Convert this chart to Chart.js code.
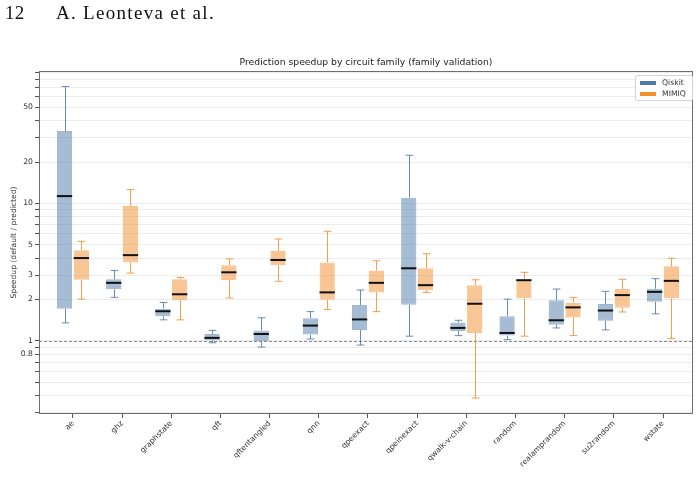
<!DOCTYPE html>
<html lang="en">
<head>
    <meta charset="UTF-8" />
    <title>Prediction speedup by circuit family</title>
    <script src="https://cdn.jsdelivr.net/npm/chart.js"></script>
    <style>
        body {
            margin: 0;
            background: #fff;
        }

        #wrap {
            position: relative;
            width: 700px;
            height: 495px;
        }

        #header {
            position: absolute;
            top: 3px;
            left: 5px;
            font-family: 'Liberation Serif', serif;
            font-size: 19px;
            line-height: 20px;
            color: #111;
            white-space: pre;
            letter-spacing: 0.3px;
        }

            #header .who {
                position: absolute;
                left: 51px;
                letter-spacing: 1.3px;
            }

        #legend {
            position: absolute;
            left: 635px;
            top: 75px;
            width: 56px;
            height: 24px;
            border: 1px solid #d4d4d4;
            border-radius: 2px;
            background: rgba(255, 255, 255, 0.85);
            font-family: 'DejaVu Sans', sans-serif;
            font-size: 7.7px;
            color: #333;
        }

            #legend .item {
                position: absolute;
                left: 4px;
                height: 10px;
                line-height: 10px;
            }

            #legend .patch {
                display: inline-block;
                width: 16px;
                height: 4px;
                vertical-align: middle;
                margin-right: 6px;
            }

        canvas {
            position: absolute;
            left: 0;
            top: 0;
        }
    </style>
</head>
<body>
    <div id="wrap">
        <canvas id="chart" width="700" height="495"></canvas>
        <div id="header">12<span class="who">A. Leonteva et al.</span></div>
        <div id="legend">
            <div class="item" style="top:2px"><span class="patch" style="background:#4e79a7"></span>Qiskit</div>
            <div class="item" style="top:13px"><span class="patch" style="background:#f28e2b"></span>MIMIQ</div>
        </div>
    </div>

    <script>
        // circuit families (x categories)
        const families = ['ae', 'ghz', 'graphstate', 'qft', 'qftentangled', 'qnn', 'qpeexact',
            'qpeinexact', 'qwalk-v-chain', 'random', 'realamprandom', 'su2random', 'wstate'];

        // Qiskit: whisker low, Q1, median, Q3, whisker high
        const qiskitMin = [1.35, 2.07, 1.42, 0.967, 0.90, 1.03, 0.93, 1.08, 1.09, 1.02, 1.24, 1.20, 1.57];
        const qiskitQ1 = [1.71, 2.37, 1.51, 1.01, 0.99, 1.11, 1.20, 1.83, 1.18, 1.09, 1.31, 1.40, 1.92];
        const qiskitMed = [11.3, 2.64, 1.64, 1.05, 1.12, 1.29, 1.43, 3.37, 1.24, 1.14, 1.41, 1.66, 2.27];
        const qiskitQ3 = [33.6, 2.80, 1.71, 1.12, 1.19, 1.46, 1.82, 11.0, 1.36, 1.51, 1.97, 1.85, 2.39];
        const qiskitMax = [71.0, 3.25, 1.90, 1.19, 1.47, 1.63, 2.34, 22.4, 1.41, 2.01, 2.38, 2.29, 2.83];

        // MIMIQ: whisker low, Q1, median, Q3, whisker high
        const mimiqMin = [2.01, 3.11, 1.42, 2.05, 2.71, 1.69, 1.63, 2.25, 0.383, 1.08, 1.09, 1.62, 1.04];
        const mimiqQ1 = [2.78, 3.72, 1.97, 2.77, 3.54, 1.99, 2.25, 2.33, 1.14, 2.04, 1.48, 1.74, 2.04];
        const mimiqMed = [4.00, 4.20, 2.18, 3.15, 3.87, 2.25, 2.64, 2.54, 1.86, 2.76, 1.75, 2.15, 2.73];
        const mimiqQ3 = [4.55, 9.56, 2.80, 3.54, 4.50, 3.72, 3.25, 3.37, 2.54, 2.78, 1.89, 2.38, 3.48];
        const mimiqMax = [5.29, 12.6, 2.89, 3.95, 5.50, 6.26, 3.82, 4.30, 2.78, 3.15, 2.07, 2.80, 3.98];

        // log axis: grid positions and which of them carry a label
        const yGrid = [0.3, 0.4, 0.5, 0.6, 0.7, 0.8, 0.9, 1, 2, 3, 4, 5, 6, 7, 8, 9, 10, 20, 30, 40, 50, 60, 70, 80, 90];
        const yLabelled = [0.8, 1, 2, 3, 5, 10, 20, 50];
        const refLine = 1;
        const chartTitle = 'Prediction speedup by circuit family (family validation)';

        const boxStats = [
            { min: qiskitMin, q1: qiskitQ1, med: qiskitMed, q3: qiskitQ3, max: qiskitMax, whisker: 'rgba(78,121,167,0.85)' },
            { min: mimiqMin, q1: mimiqQ1, med: mimiqMed, q3: mimiqQ3, max: mimiqMax, whisker: 'rgba(242,142,43,0.85)' }
        ];

        const boxPlugin = {
            id: 'boxPlugin',
            beforeDatasetsDraw(chart) {
                const { ctx, chartArea, scales } = chart;
                const y = scales.y.getPixelForValue(refLine);
                ctx.save();
                ctx.strokeStyle = '#8c8c8c';
                ctx.lineWidth = 1;
                ctx.setLineDash([3, 2]);
                ctx.beginPath();
                ctx.moveTo(chartArea.left, Math.round(y) + 0.5);
                ctx.lineTo(chartArea.right, Math.round(y) + 0.5);
                ctx.stroke();
                ctx.restore();
            },
            afterDatasetsDraw(chart) {
                const { ctx, scales } = chart;
                const ys = scales.y;
                ctx.save();
                boxStats.forEach((s, d) => {
                    const meta = chart.getDatasetMeta(d);
                    meta.data.forEach((bar, i) => {
                        const x = Math.round(bar.x) + 0.5;
                        const half = bar.width / 2;
                        const yMin = ys.getPixelForValue(s.min[i]);
                        const yQ1 = ys.getPixelForValue(s.q1[i]);
                        const yQ3 = ys.getPixelForValue(s.q3[i]);
                        const yMax = ys.getPixelForValue(s.max[i]);
                        const yMed = ys.getPixelForValue(s.med[i]);
                        ctx.strokeStyle = s.whisker;
                        ctx.lineWidth = 1;
                        ctx.beginPath();
                        ctx.moveTo(x, yQ3); ctx.lineTo(x, yMax);
                        ctx.moveTo(x, yQ1); ctx.lineTo(x, yMin);
                        ctx.moveTo(x - half / 2, yMax); ctx.lineTo(x + half / 2, yMax);
                        ctx.moveTo(x - half / 2, yMin); ctx.lineTo(x + half / 2, yMin);
                        ctx.stroke();
                        ctx.strokeStyle = '#111';
                        ctx.lineWidth = 2;
                        ctx.beginPath();
                        ctx.moveTo(bar.x - half, yMed); ctx.lineTo(bar.x + half, yMed);
                        ctx.stroke();
                    });
                });
                ctx.restore();
            },
            afterDraw(chart) {
                const { ctx, chartArea } = chart;
                ctx.save();
                ctx.strokeStyle = '#6e6e6e';
                ctx.lineWidth = 1;
                ctx.strokeRect(chartArea.left + 0.5, chartArea.top + 0.5,
                    chartArea.right - chartArea.left - 1, chartArea.bottom - chartArea.top - 1);
                // title centred over the plot area, as in the source figure
                ctx.fillStyle = '#222';
                ctx.font = '9.25px "DejaVu Sans"';
                ctx.textAlign = 'center';
                ctx.textBaseline = 'middle';
                ctx.fillText(chartTitle, (chartArea.left + chartArea.right) / 2, 62.5);
                ctx.restore();
            }
        };

        new Chart(document.getElementById('chart'), {
            type: 'bar',
            data: {
                datasets: [
                    {
                        label: 'Qiskit',
                        data: families.map((f, i) => ({ x: i, y: [qiskitQ1[i], qiskitQ3[i]] })),
                        backgroundColor: 'rgba(78,121,167,0.5)',
                        borderColor: 'rgba(78,121,167,0.55)',
                        borderWidth: 1,
                        borderSkipped: false
                    },
                    {
                        label: 'MIMIQ',
                        data: families.map((f, i) => ({ x: i, y: [mimiqQ1[i], mimiqQ3[i]] })),
                        backgroundColor: 'rgba(242,142,43,0.5)',
                        borderColor: 'rgba(242,142,43,0.55)',
                        borderWidth: 1,
                        borderSkipped: false
                    }
                ]
            },
            options: {
                responsive: false,
                animation: false,
                categoryPercentage: 0.683,
                barPercentage: 0.91,
                layout: { padding: { left: 0, right: 7, top: 71, bottom: 0 } },
                plugins: {
                    legend: { display: false },
                    tooltip: { enabled: false },
                    title: { display: false }
                },
                scales: {
                    x: {
                        type: 'linear',
                        offset: false,
                        min: -0.69,
                        max: 12.61,
                        afterBuildTicks: s => { s.ticks = families.map((f, i) => ({ value: i })); },
                        afterFit: s => { s.height = 81; },
                        grid: { offset: false, drawOnChartArea: false, drawTicks: true, tickLength: 4, tickColor: '#555' },
                        border: { display: false },
                        ticks: {
                            autoSkip: false,
                            minRotation: 45,
                            maxRotation: 45,
                            padding: 1,
                            color: '#333',
                            font: { family: 'DejaVu Sans', size: 7.7 },
                            callback: v => families[v]
                        }
                    },
                    y: {
                        type: 'logarithmic',
                        min: 0.293,
                        max: 92,
                        afterBuildTicks: s => { s.ticks = yGrid.map(v => ({ value: v })); },
                        afterFit: s => { s.width = 39; },
                        grid: { color: '#ececec', lineWidth: 1, tickLength: 4, tickColor: '#555' },
                        border: { display: false },
                        ticks: {
                            autoSkip: false,
                            padding: 2,
                            color: '#333',
                            font: { family: 'DejaVu Sans', size: 7.7 },
                            callback: v => (yLabelled.includes(v) ? String(v) : '')
                        },
                        title: {
                            display: true,
                            text: 'Speedup (default / predicted)',
                            color: '#333',
                            font: { family: 'DejaVu Sans', size: 7.6 },
                            padding: { top: 9, bottom: 0 }
                        }
                    }
                }
            },
            plugins: [boxPlugin]
        });
    </script>
</body>
</html>
